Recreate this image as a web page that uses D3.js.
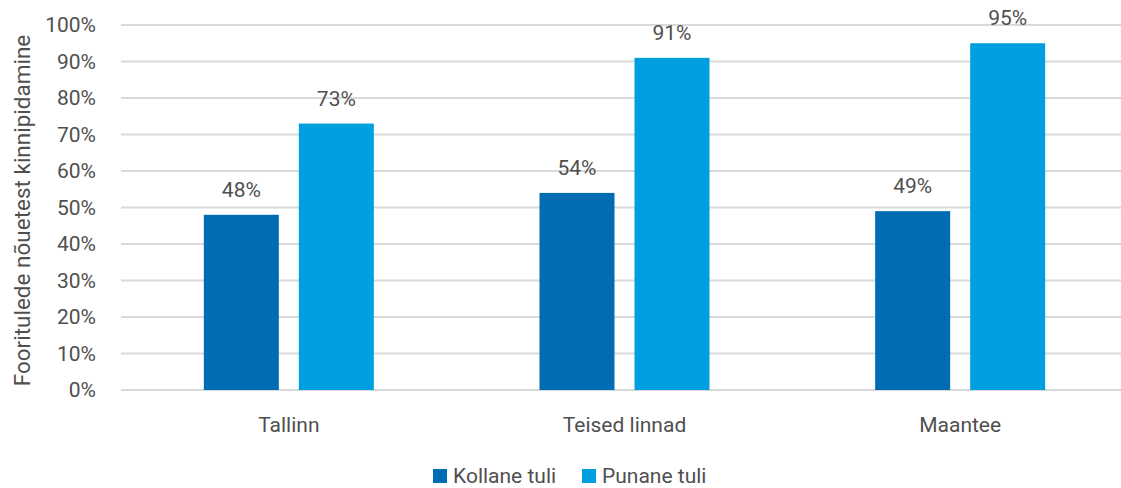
<!DOCTYPE html>
<html>
<head>
<meta charset="utf-8">
<script src="https://cdn.jsdelivr.net/npm/d3@7"></script>
<style>
	body { margin: 0; background: #fff; }
	text { font-family: Roboto, "Noto Sans", sans-serif; fill: #4f4f4f; }
</style>
</head>
<body>
<svg id="chart"></svg>
<script>
/*
	Data
*/
const categories = ['Tallinn', 'Teised linnad', 'Maantee']
const seriesNames = ['Kollane tuli', 'Punane tuli']
const kollane = [48, 54, 49]
const punane = [73, 91, 95]
const yTicks = [0, 10, 20, 30, 40, 50, 60, 70, 80, 90, 100]
const colors = ['#006db3', '#009fe0']

/*
	Drawing constants
*/
const [width, height] = [1121, 488]
const margin = {top: 25, right: -7, bottom: 98, left: 121}
const fontSize = '21px'

const svg = d3.select('#chart').attr('width', width).attr('height', height)

const x = d3.scaleBand().domain(categories).range([margin.left, width - margin.right])
const y = d3.scaleLinear().domain([0, 100]).range([height - margin.bottom, margin.top])
const barW = 75, barGap = 20

//gridlines
svg.append('g').selectAll('line').data(yTicks).join('line')
	.attr('x1', margin.left).attr('x2', width)
	.attr('y1', d => y(d)).attr('y2', d => y(d))
	.attr('stroke', '#d9d9d9').attr('stroke-width', 2)

//y tick labels
svg.append('g').selectAll('text').data(yTicks).join('text')
	.attr('x', 96).attr('y', d => y(d)).attr('dy', '0.35em')
	.attr('text-anchor', 'end').style('font-size', fontSize)
	.text(d => d + '%')

//y axis title
svg.append('text')
	.attr('transform', `translate(30,${(y(0) + y(100)) / 2 + 3}) rotate(-90)`)
	.attr('text-anchor', 'middle').style('font-size', '22.5px')
	.text('Fooritulede nõuetest kinnipidamine')

//bars, one group per series
const series = [kollane, punane]
series.forEach((vals, si) => {
	const xOff = si === 0 ? -barGap / 2 - barW : barGap / 2
	const g = svg.append('g')
	g.selectAll('rect').data(vals).join('rect')
		.attr('x', (d, i) => x(categories[i]) + x.bandwidth() / 2 + xOff)
		.attr('y', d => y(d))
		.attr('width', barW)
		.attr('height', d => y(0) - y(d))
		.attr('fill', colors[si])
	g.selectAll('text').data(vals).join('text')
		.attr('x', (d, i) => x(categories[i]) + x.bandwidth() / 2 + xOff + barW / 2)
		.attr('y', d => y(d) - 18)
		.attr('text-anchor', 'middle').style('font-size', fontSize)
		.text(d => d + '%')
})

//category labels
svg.append('g').selectAll('text').data(categories).join('text')
	.attr('x', d => x(d) + x.bandwidth() / 2).attr('y', 432)
	.attr('text-anchor', 'middle').style('font-size', fontSize)
	.text(d => d)

//legend
const legendX = [433, 582]
const legend = svg.append('g').selectAll('g').data(seriesNames).join('g')
	.attr('transform', (d, i) => `translate(${legendX[i]},469)`)
legend.append('rect').attr('width', 14).attr('height', 14).attr('fill', (d, i) => colors[i])
legend.append('text').attr('x', 20).attr('y', 7).attr('dy', '0.35em')
	.style('font-size', fontSize).text(d => d)
</script>
</body>
</html>
